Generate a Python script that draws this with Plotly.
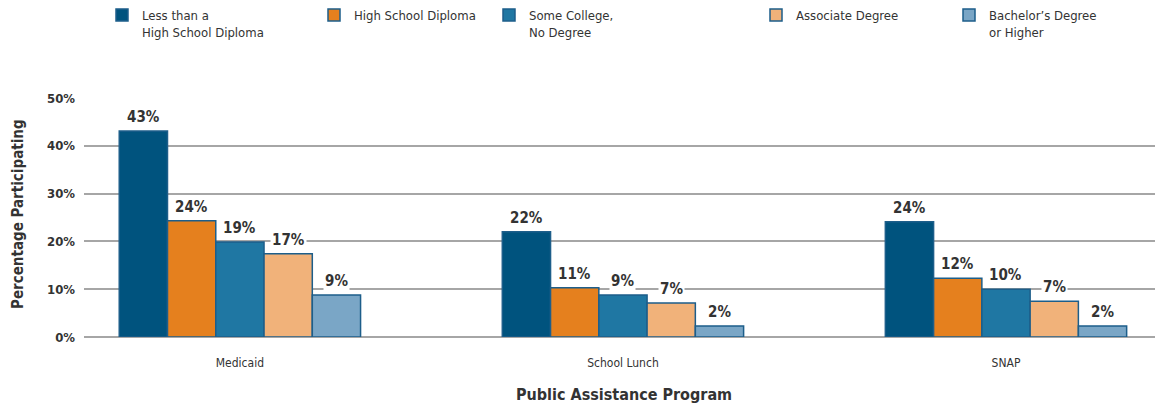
import plotly.graph_objects as go

programs = ["Medicaid", "School Lunch", "SNAP"]

education = [
    "Less than a<br>High School Diploma",
    "High School Diploma",
    "Some College,<br>No Degree",
    "Associate Degree",
    "Bachelor\u2019s Degree<br>or Higher",
]

# bar heights, labels as printed
less_than_hs = [43.1, 22.0, 24.1]
hs_diploma = [24.3, 10.3, 12.3]
some_college = [19.9, 8.8, 10.0]
associate = [17.4, 7.1, 7.5]
bachelors = [8.8, 2.3, 2.3]

less_than_hs_lbl = ["43%", "22%", "24%"]
hs_diploma_lbl = ["24%", "11%", "12%"]
some_college_lbl = ["19%", "9%", "10%"]
associate_lbl = ["17%", "7%", "7%"]
bachelors_lbl = ["9%", "2%", "2%"]

y_ticks = [0, 10, 20, 30, 40, 50]
y_tick_text = ["0%", "10%", "20%", "30%", "40%", "50%"]

colors = ["#00537e", "#e5801e", "#1f77a3", "#f1b27a", "#7aa6c6"]
legend_x = [102, 314, 489, 756, 949]

FONT = "Liberation Sans Narrow, DejaVu Sans Condensed, Arial Narrow, sans-serif"
W, H = 1155, 408
ML, MR, MT, MB = 84, 0, 98, 71
PW, PH = W - ML - MR, H - MT - MB
BARGAP = 0.37

series = [less_than_hs, hs_diploma, some_college, associate, bachelors]
labels = [less_than_hs_lbl, hs_diploma_lbl, some_college_lbl, associate_lbl, bachelors_lbl]

fig = go.Figure()

legend_names = ["legend", "legend2", "legend3", "legend4", "legend5"]

for i, name in enumerate(education):
    fig.add_trace(go.Bar(
        x=programs,
        y=series[i],
        name=name,
        marker=dict(color=colors[i], line=dict(color="#1d5e8a", width=1.5)),
        legend=legend_names[i],
        showlegend=True,
        hoverinfo="skip",
    ))

# value labels with white background so they cover the gridlines
bar_w = (1 - BARGAP) / len(series)
annotations = []
for i in range(len(series)):
    offset = (i - (len(series) - 1) / 2) * bar_w
    for j in range(len(programs)):
        annotations.append(dict(
            x=j + offset,
            y=series[i][j],
            xref="x",
            yref="y",
            text=f"<b>{labels[i][j]}</b>",
            showarrow=False,
            yanchor="bottom",
            yshift=3,
            bgcolor="white",
            borderpad=1,
            font=dict(family=FONT, size=15, color="#333333"),
        ))

# axis titles (paper coords converted from pixels)
annotations.append(dict(
    text="<b>Public Assistance Program</b>",
    x=(624 - ML) / PW, y=(H - MB - 394) / PH, xref="paper", yref="paper",
    yanchor="middle", xanchor="center", showarrow=False,
    font=dict(family=FONT, size=16, color="#333333"),
))
annotations.append(dict(
    text="<b>Percentage Participating</b>",
    x=(18 - ML) / PW, y=(H - MB - 214) / PH, xref="paper", yref="paper",
    textangle=-90, xanchor="center", yanchor="middle", showarrow=False,
    font=dict(family=FONT, size=15, color="#333333"),
))

layout_legends = {}
for i, ln in enumerate(legend_names):
    layout_legends[ln] = dict(
        x=legend_x[i] / W,
        y=1,
        xref="container",
        yref="container",
        xanchor="left",
        yanchor="top",
        orientation="v",
        valign="top",
        font=dict(family=FONT, size=13, color="#333333"),
        bgcolor="rgba(0,0,0,0)",
        itemwidth=30,
    )

fig.update_layout(
    width=W,
    height=H,
    paper_bgcolor="white",
    plot_bgcolor="white",
    barmode="group",
    bargap=BARGAP,
    bargroupgap=0,
    showlegend=True,
    margin=dict(l=ML, r=MR, t=MT, b=MB, autoexpand=False),
    font=dict(family=FONT, size=13, color="#333333"),
    annotations=annotations,
    **layout_legends,
)

fig.update_xaxes(
    range=[-0.407, 2.389],
    showgrid=False,
    showline=False,
    ticks="",
    ticklabelstandoff=17,
    automargin=False,
    tickfont=dict(family=FONT, size=12, color="#333333"),
)

fig.update_yaxes(
    range=[0, 50],
    tickvals=y_ticks,
    ticktext=[f"<b>{t}</b>" for t in y_tick_text],
    showgrid=True,
    gridcolor="#a6a6a6",
    gridwidth=1.5,
    zeroline=True,
    zerolinecolor="#a6a6a6",
    zerolinewidth=1.5,
    showline=False,
    ticks="",
    ticklabelstandoff=8,
    automargin=False,
    tickfont=dict(family=FONT, size=13, color="#333333"),
)

fig.write_html(
    "out.html",
    config=dict(displayModeBar=False),
    post_script="document.body.style.margin='0';document.body.style.overflow='hidden';",
)
